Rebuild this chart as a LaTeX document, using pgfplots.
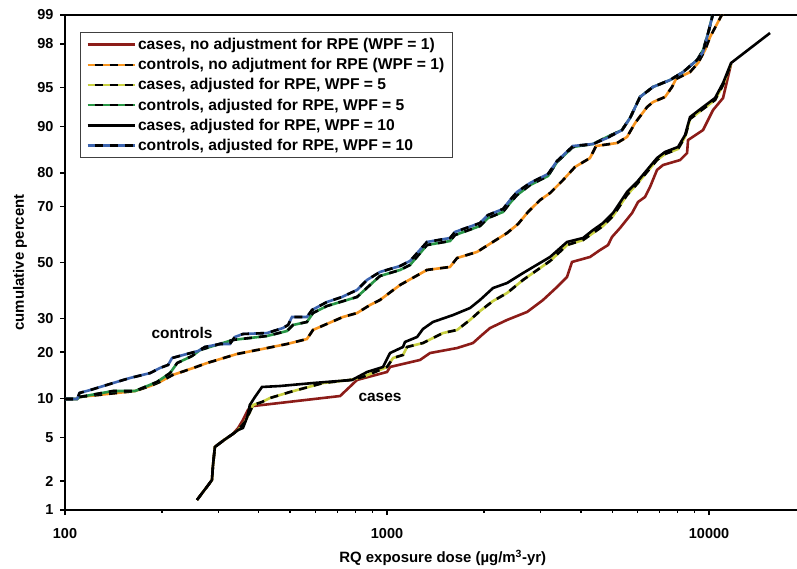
\documentclass[border=0pt]{standalone}
\usepackage{pgfplots}
\pgfplotsset{compat=1.18}
\usepackage{pgfplotstable}
\usepackage{fontspec}
\setmainfont{Liberation Sans}

\definecolor{cred}{RGB}{140,28,24}
\definecolor{corange}{RGB}{247,148,30}
\definecolor{cyellow}{RGB}{200,208,64}
\definecolor{cgreen}{RGB}{40,150,70}
\definecolor{cblue}{RGB}{60,100,175}

% y values are probits (normal quantiles) of the cumulative percent
\pgfplotstableread{
x z
257 -2.232
280 -2.082
286 -2.044
288 -1.913
292 -1.734
312 -1.668
332 -1.612
345 -1.555
357 -1.480
370 -1.386
384 -1.349
715 -1.255
807 -1.104
1000 -1.029
1022 -0.982
1266 -0.916
1360 -0.851
1650 -0.804
1849 -0.757
1972 -0.681
2089 -0.616
2359 -0.540
2722 -0.465
3052 -0.352
3373 -0.230
3623 -0.136
3754 0.005
4270 0.052
4586 0.117
4857 0.164
4997 0.240
5291 0.324
5767 0.465
6020 0.569
6327 0.616
6558 0.710
6894 0.870
7196 0.916
8128 0.963
8546 1.029
8607 1.151
9581 1.245
10290 1.433
11053 1.546
11704 1.866
}\casesA

\pgfplotstableread{
x z
100 -1.283
109 -1.283
111 -1.264
165 -1.208
184 -1.161
197 -1.123
216 -1.057
250 -0.992
276 -0.945
342 -0.860
424 -0.804
489 -0.766
564 -0.719
589 -0.634
730 -0.512
807 -0.475
886 -0.399
951 -0.352
1098 -0.211
1331 -0.070
1569 -0.042
1650 0.042
1903 0.099
2359 0.277
2552 0.362
2741 0.475
2988 0.587
3209 0.653
3521 0.775
3836 0.898
4270 0.982
4458 1.095
5179 1.123
5563 1.180
5892 1.311
6419 1.461
6700 1.508
7301 1.556
7676 1.650
7899 1.725
8730 1.790
9244 1.875
9719 1.997
10072 2.119
11371 2.420
}\ctrlA

\pgfplotstableread{
x z
257 -2.232
280 -2.082
286 -2.044
288 -1.913
292 -1.734
312 -1.668
332 -1.612
345 -1.574
362 -1.499
375 -1.405
384 -1.339
409 -1.311
433 -1.274
500 -1.217
633 -1.133
768 -1.104
842 -1.076
1000 -0.982
1044 -0.898
1121 -0.869
1154 -0.794
1293 -0.757
1492 -0.663
1650 -0.634
1810 -0.540
1945 -0.456
2134 -0.362
2359 -0.287
2645 -0.164
3209 0.014
3623 0.164
4061 0.211
4363 0.277
4686 0.343
5033 0.437
5563 0.634
5977 0.738
6419 0.851
6894 0.963
7301 1.020
8012 1.067
8424 1.180
8730 1.349
9581 1.443
10438 1.527
11053 1.668
11704 1.866
}\casesB

\pgfplotstableread{
x z
100 -1.283
109 -1.283
111 -1.264
141 -1.208
165 -1.208
193 -1.123
212 -1.039
223 -0.945
248 -0.879
263 -0.822
332 -0.728
424 -0.691
489 -0.644
511 -0.587
564 -0.559
589 -0.475
651 -0.409
807 -0.324
886 -0.211
951 -0.127
1098 -0.070
1179 -0.023
1331 0.164
1569 0.202
1626 0.258
1945 0.343
2059 0.418
2292 0.475
2410 0.559
2534 0.634
2781 0.728
3162 0.813
3373 0.945
3781 1.086
4363 1.114
4822 1.180
5368 1.245
5684 1.358
6106 1.556
6700 1.650
7566 1.715
8304 1.790
9178 1.903
9581 1.997
10000 2.185
10364 2.392
}\ctrlB

\pgfplotstableread{
x z
257 -2.232
280 -2.082
286 -2.044
288 -1.913
292 -1.734
312 -1.668
332 -1.612
345 -1.574
357 -1.555
368 -1.452
375 -1.339
389 -1.264
409 -1.170
465 -1.161
589 -1.133
779 -1.104
867 -1.029
972 -0.982
1007 -0.888
1022 -0.851
1121 -0.794
1137 -0.747
1240 -0.700
1293 -0.625
1389 -0.559
1603 -0.494
1810 -0.428
1945 -0.352
2134 -0.240
2359 -0.193
2645 -0.099
3209 0.052
3623 0.193
4061 0.230
4363 0.305
4686 0.371
5033 0.465
5563 0.663
5977 0.757
6419 0.870
6894 0.982
7301 1.039
8012 1.086
8424 1.198
8730 1.367
9581 1.461
10438 1.546
11053 1.687
11704 1.875
15466 2.157
}\casesC

\pgfplotstableread{
x z
100 -1.283
109 -1.283
111 -1.226
120 -1.198
141 -1.133
159 -1.086
184 -1.039
197 -0.992
209 -0.963
215 -0.898
239 -0.860
259 -0.832
272 -0.794
303 -0.766
325 -0.766
337 -0.700
357 -0.672
424 -0.663
475 -0.616
493 -0.587
507 -0.512
564 -0.512
585 -0.446
651 -0.371
725 -0.324
807 -0.258
867 -0.164
951 -0.089
1098 -0.033
1179 0.014
1331 0.193
1569 0.230
1626 0.287
1945 0.371
2059 0.446
2292 0.503
2410 0.587
2534 0.663
2781 0.747
3162 0.832
3373 0.954
3781 1.095
4363 1.114
4822 1.170
5368 1.245
5684 1.358
6106 1.556
6700 1.650
7566 1.715
8304 1.790
9178 1.903
9581 1.978
9858 2.119
10364 2.373
}\ctrlC

\pgfplotsset{
  dashleg/.style={legend image code/.code={
    \draw[#1, line width=2.6bp] (0bp,0bp) -- (47bp,0bp);
    \draw[black, line width=2.6bp, dash pattern=on 8bp off 7bp, dash phase=8bp] (0bp,0bp) -- (47bp,0bp);}},
  blackdash/.style={black, line width=2.6bp, dash pattern=on 8bp off 7bp, forget plot},
}

\begin{document}
\begin{tikzpicture}
\useasboundingbox (0,0) rectangle (797bp,569bp);
\begin{axis}[
    at={(65bp,59bp)}, anchor=south west,
    scale only axis, width=732bp, height=495bp,
    xmode=log, xmin=100, xmax=18760,
    ymin=-2.3263, ymax=2.3263,
    axis x line*=box, axis y line*=left,
    axis line style={line width=1.6bp, -},
    xtick pos=left, ytick pos=left,
    tick align=outside,
    major tick length=5bp, minor tick length=2.5bp,
    every tick/.style={black, line width=1.2bp},
    xtick={100,1000,10000},
    xticklabels={100,1000,10000},
    ytick={-2.3263,-2.0537,-1.6449,-1.2816,-0.8416,-0.5244,0,0.5244,0.8416,1.2816,1.6449,2.0537,2.3263},
    yticklabels={1,2,5,10,20,30,50,70,80,90,95,98,99},
    tick label style={font=\fontsize{14.5}{17}\selectfont\bfseries},
    xticklabel style={yshift=-10bp},
    yticklabel style={xshift=-3bp},
    xlabel={RQ exposure dose (µg/m\textsuperscript{3}-yr)},
    ylabel={cumulative percent},
    label style={font=\fontsize{15}{18}\selectfont\bfseries},
    xlabel style={at={(axis description cs:0.516,-0.097)}, anchor=center},
    ylabel style={at={(axis description cs:-0.0615,0.5)}, anchor=center},
    legend image code/.code={\draw[#1, line width=2.6bp] (0bp,0bp) -- (47bp,0bp);},
    legend style={at={(axis description cs:0.0205,0.9657)}, anchor=north west,
        draw=black!75, line width=0.8bp, fill=white,
        font=\fontsize{15.7}{18}\selectfont\bfseries,
        inner xsep=6bp, inner ysep=4bp, row sep=3.3bp},
    legend cell align=left,
]
\addplot[cred, line width=2.6bp] table[x=x,y=z] {\casesA};
\addlegendentry{cases, no adjustment for RPE (WPF = 1)}
\addplot[corange, line width=2.6bp, dashleg=corange] table[x=x,y=z] {\ctrlA};
\addlegendentry{controls, no adjutment for RPE (WPF = 1)}
\addplot[blackdash] table[x=x,y=z] {\ctrlA};
\addplot[cyellow, line width=2.6bp, dashleg=cyellow] table[x=x,y=z] {\casesB};
\addlegendentry{cases, adjusted for RPE, WPF = 5}
\addplot[blackdash] table[x=x,y=z] {\casesB};
\addplot[cgreen, line width=2.6bp, dashleg=cgreen] table[x=x,y=z] {\ctrlB};
\addlegendentry{controls, adjusted for RPE, WPF = 5}
\addplot[blackdash] table[x=x,y=z] {\ctrlB};
\addplot[black, line width=2.6bp] table[x=x,y=z] {\casesC};
\addlegendentry{cases, adjusted for RPE, WPF = 10}
\addplot[cblue, line width=2.6bp, dashleg=cblue] table[x=x,y=z] {\ctrlC};
\addlegendentry{controls, adjusted for RPE, WPF = 10}
\addplot[blackdash] table[x=x,y=z] {\ctrlC};
\node[font=\fontsize{15.5}{18}\selectfont\bfseries] at (axis cs:231,-0.663) {controls};
\node[font=\fontsize{15.5}{18}\selectfont\bfseries] at (axis cs:951,-1.264) {cases};
\end{axis}
\end{tikzpicture}
\end{document}
